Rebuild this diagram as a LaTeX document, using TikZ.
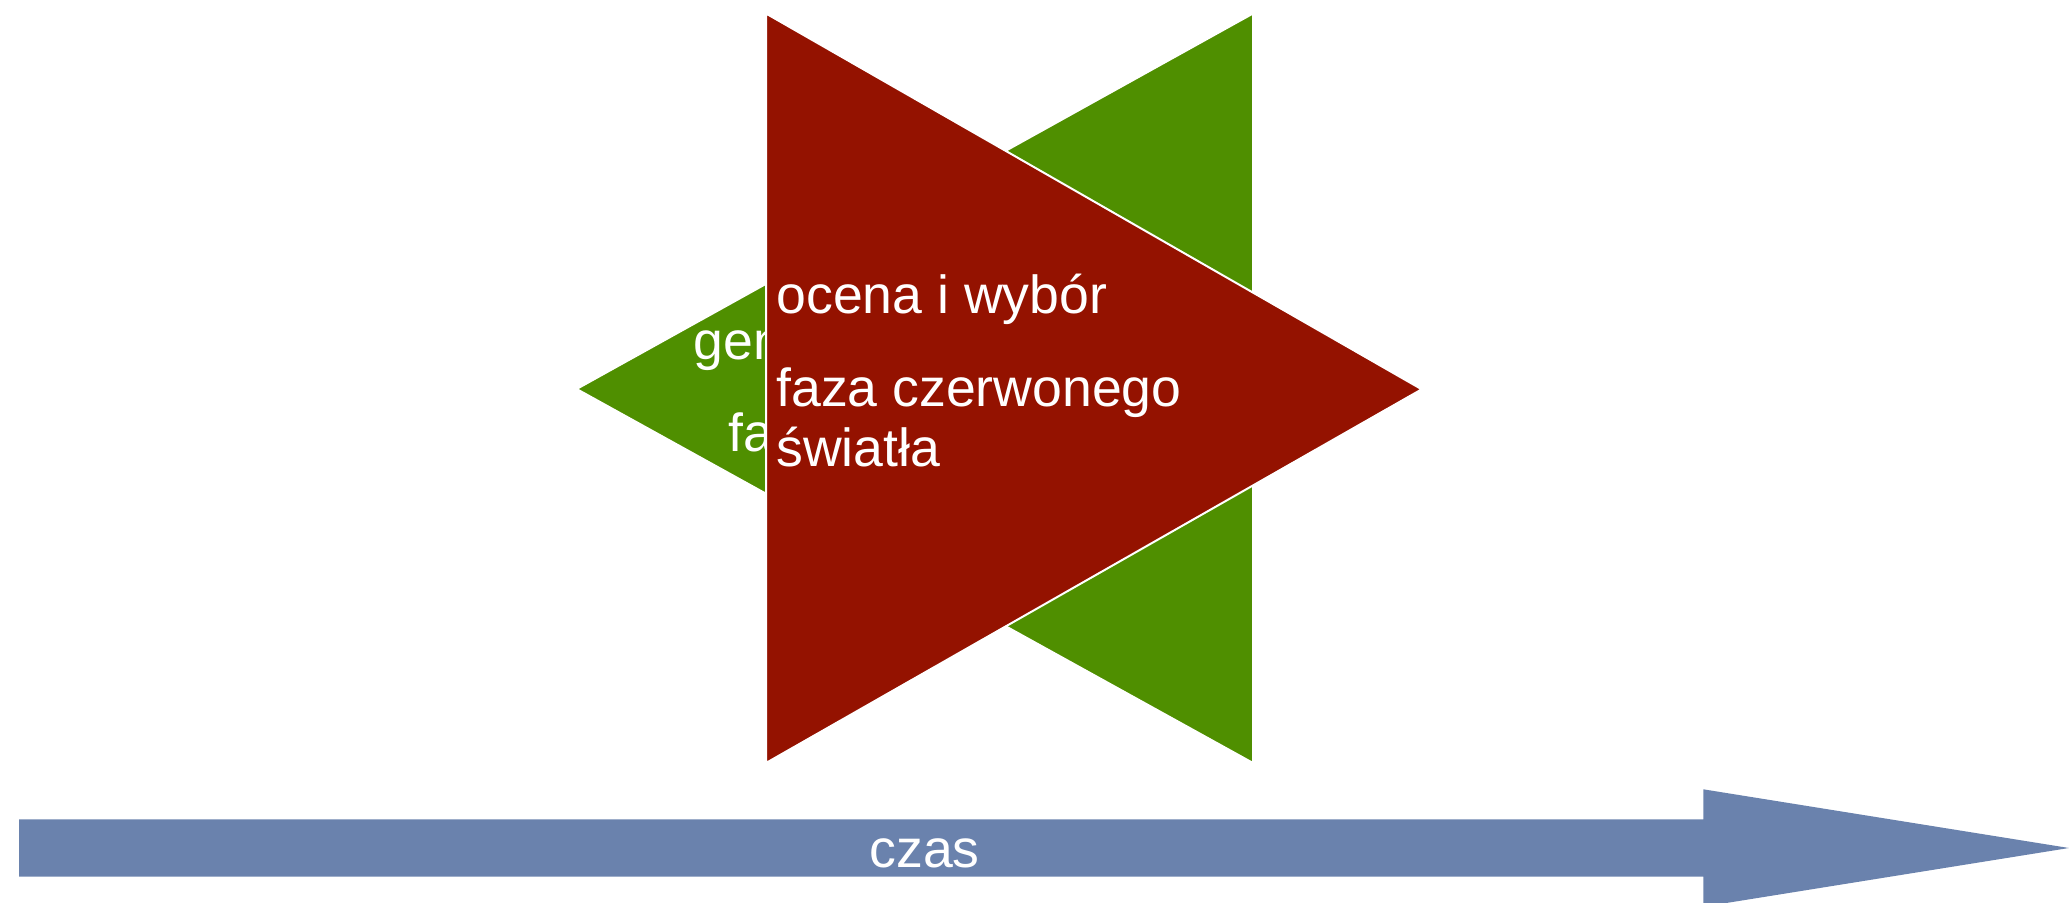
\documentclass[tikz,border=0pt]{standalone}
\usepackage{fontspec}
\setmainfont{Liberation Sans}
\usetikzlibrary{positioning}
\definecolor{redphase}{RGB}{148,18,0}
\definecolor{greenphase}{RGB}{79,143,0}
\definecolor{timeblue}{RGB}{106,130,173}
\tikzstyle{phase} = [draw=white, line width=1pt, line join=miter]
\tikzstyle{txt} = [text=white, inner sep=0pt, anchor=base west, font=\fontsize{26.8}{31}\selectfont]

\begin{document}
\begin{tikzpicture}[x=0.5pt, y=-0.5pt]
    \useasboundingbox (0,0) rectangle (2069,903);
    % green phase (pointing left)
    \filldraw[fill=greenphase, phase] (1253,13.5) -- (1253,763) -- (576.6,389) -- cycle;
    \node[txt] (gen) at (693.3,359.3) {gen};
    \node[txt] (fa) at (728.3,451.7) {fa};
    % red phase (pointing right)
    \filldraw[fill=redphase, phase] (766,13.5) -- (766,763) -- (1421.7,389.3) -- cycle;
    \node[txt] (ocena) at (776,313.3) {ocena i wybór};
    \node[txt] (faza) at (776,406.7) {faza czerwonego};
    \node[txt] (swiatla) at (776,466.7) {światła};
    % time axis
    \fill[timeblue] (19,819.3) -- (1703.3,819.3) -- (1703.3,789.3) -- (2069,848)
        -- (1703.3,906.7) -- (1703.3,876.7) -- (19,876.7) -- cycle;
    \node[txt, anchor=base] (czas) at (924.5,867.3) {czas};
\end{tikzpicture}
\end{document}
